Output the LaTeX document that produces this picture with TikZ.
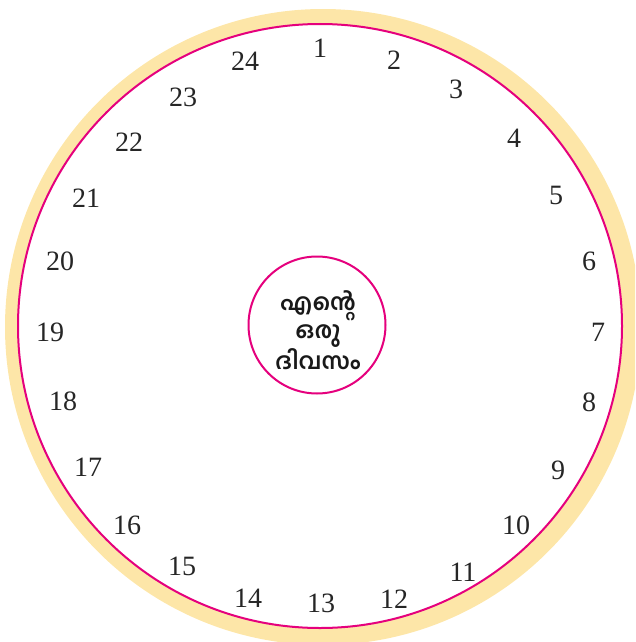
\documentclass[tikz,border=0pt]{standalone}
\usepackage{fontspec}
\setmainfont{Liberation Serif}
\newfontfamily\mlfont[Script=Malayalam]{Hind Kochi}
\definecolor{ringyellow}{HTML}{FDE6A8}
\definecolor{ringmag}{HTML}{E5007D}
\tikzset{
  hournum/.style={font=\fontsize{28}{30}\selectfont, text=black!85, inner sep=0pt, anchor=center},
  ringline/.style={draw=ringmag, line width=2pt},
}
\begin{document}
\begin{tikzpicture}[x=1pt,y=1pt]
\useasboundingbox (0,0) rectangle (635,-642);
\clip (0,0) rectangle (635,-642);
\fill[ringyellow] (323,-327) circle (318);
\node[ringline, fill=white, circle, minimum size=604pt, inner sep=0pt] (outer) at (320,-326) {};
\node[ringline, circle, minimum size=137pt, inner sep=0pt] (center) at (317,-325) {};
\node[inner sep=0pt, align=center, text=black!90,
  font=\mlfont\bfseries\fontsize{23}{27.5}\selectfont] (title) at (318,-330) {എന്റെ\\ഒരു\\ദിവസം};
\node[hournum] (h1) at (320,-48) {1};
\node[hournum] (h2) at (394,-60) {2};
\node[hournum] (h3) at (456,-89) {3};
\node[hournum] (h4) at (514,-138) {4};
\node[hournum] (h5) at (556,-195) {5};
\node[hournum] (h6) at (589,-261) {6};
\node[hournum] (h7) at (598,-332) {7};
\node[hournum] (h8) at (589,-402) {8};
\node[hournum] (h9) at (558,-470) {9};
\node[hournum] (h10) at (516,-525) {10};
\node[hournum] (h11) at (463,-572) {11};
\node[hournum] (h12) at (394,-599) {12};
\node[hournum] (h13) at (321,-603) {13};
\node[hournum] (h14) at (248,-598) {14};
\node[hournum] (h15) at (182,-566) {15};
\node[hournum] (h16) at (127,-525) {16};
\node[hournum] (h17) at (88,-467) {17};
\node[hournum] (h18) at (63,-401) {18};
\node[hournum] (h19) at (50,-332) {19};
\node[hournum] (h20) at (60,-261) {20};
\node[hournum] (h21) at (86,-198) {21};
\node[hournum] (h22) at (129,-142) {22};
\node[hournum] (h23) at (183,-97) {23};
\node[hournum] (h24) at (245,-61) {24};
\end{tikzpicture}
\end{document}
